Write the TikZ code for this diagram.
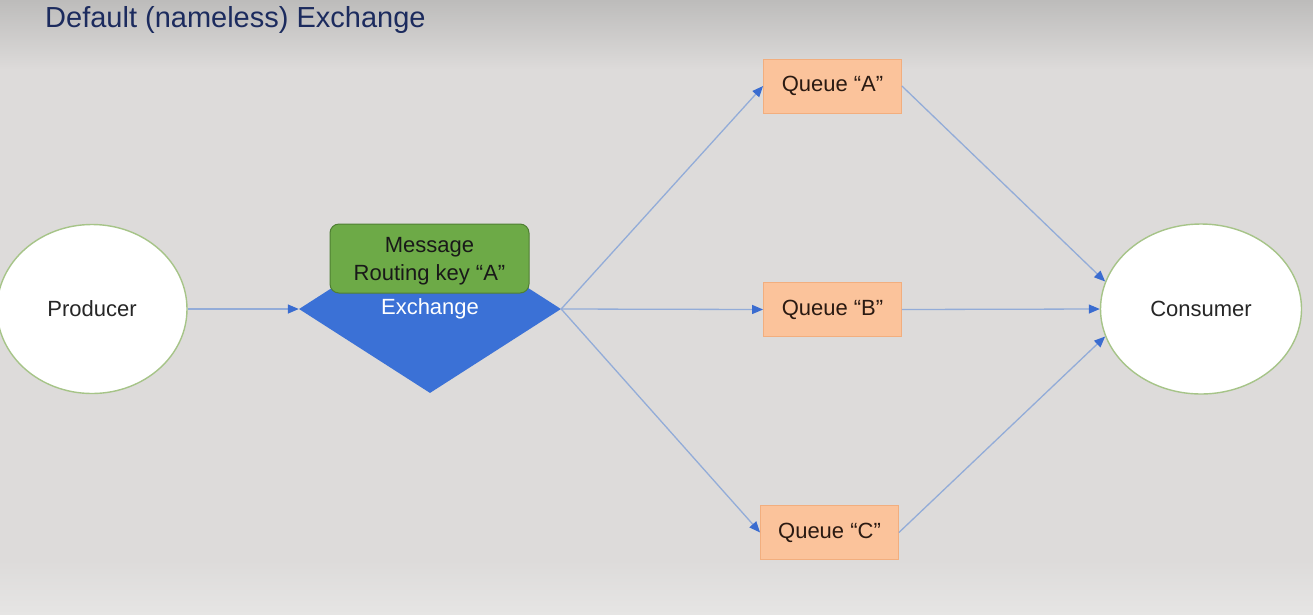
\documentclass[tikz,border=0pt]{standalone}
\usepackage{fontspec}
\setmainfont{Liberation Sans}
\usetikzlibrary{shapes.geometric,arrows.meta}
\definecolor{bgmain}{HTML}{DDDBDA}
\definecolor{bgtop}{HTML}{BDBCBB}
\definecolor{bgbot}{HTML}{E6E5E4}
\definecolor{titlecol}{HTML}{1C2B5E}
\definecolor{ellborder}{HTML}{A6C488}
\definecolor{linecol}{HTML}{93ACD8}
\definecolor{arrowcol}{HTML}{3A6CD0}
\definecolor{exfill}{HTML}{3B71D6}
\definecolor{msgfill}{HTML}{6DAA47}
\definecolor{msgborder}{HTML}{4F7F33}
\definecolor{qfill}{HTML}{FBC39B}
\definecolor{qborder}{HTML}{F2AE7E}
\definecolor{qtext}{HTML}{2A1A12}
\tikzset{
  endpoint/.style={ellipse, draw=ellborder, line width=1.4pt, fill=white,
    minimum width=190pt, minimum height=169pt, inner sep=0pt,
    font=\fontsize{22}{26}\selectfont, text=black!85},
  exchbox/.style={diamond, fill=exfill, draw=none, aspect=1.56,
    minimum width=262pt, minimum height=168pt, inner sep=0pt,
    font=\fontsize{22}{26}\selectfont, text=white},
  msgbox/.style={rectangle, rounded corners=9pt, fill=msgfill, draw=msgborder,
    line width=1pt, minimum width=199pt, minimum height=69pt, inner sep=0pt,
    align=center, text depth=0pt, font=\fontsize{22}{28}\selectfont, text=black!90},
  queuebox/.style={rectangle, fill=qfill, draw=qborder, line width=0.8pt,
    minimum width=138pt, minimum height=54pt, inner sep=0pt,
    font=\fontsize{22}{26}\selectfont, text=qtext},
  flow/.style={draw=linecol, line width=1.3pt,
    -{Triangle[length=11pt,width=9pt,color=arrowcol]}}
}
\begin{document}
\begin{tikzpicture}[x=1pt,y=-1pt]
\useasboundingbox (0,0) rectangle (1313,614);
\shade[top color=bgtop, bottom color=bgmain] (0,0) rectangle (1313,70);
\fill[bgmain] (0,70) rectangle (1313,560);
\shade[top color=bgmain, bottom color=bgbot] (0,560) rectangle (1313,614);
\node[anchor=base west, inner sep=0pt, text=titlecol,
  font=\fontsize{29}{34}\selectfont] (title) at (45,27) {Default (nameless) Exchange};

\node[endpoint] (prod) at (92,309) {Producer};
\node[endpoint, minimum width=201pt, minimum height=170pt] (cons) at (1201,309) {Consumer};
\node[exchbox] (exch) at (430,309) {Exchange};
\node[msgbox] (msg) at (429.5,258.5) {Message\\Routing key “A”};
\node[queuebox] (qa) at (832.5,86) {Queue “A”};
\node[queuebox] (qb) at (832.5,309.5) {Queue “B”};
\node[queuebox] (qc) at (829.5,532.5) {Queue “C”};

\draw[flow] (prod.east) -- (exch.west);
\draw[flow] (exch.east) -- (qa.west);
\draw[flow] (exch.east) -- (qb.west);
\draw[flow] (exch.east) -- (qc.west);
\draw[flow] (qa.east) -- (cons.164);
\draw[flow] (qb.east) -- (cons.west);
\draw[flow] (qc.east) -- (cons.196);
\end{tikzpicture}
\end{document}
